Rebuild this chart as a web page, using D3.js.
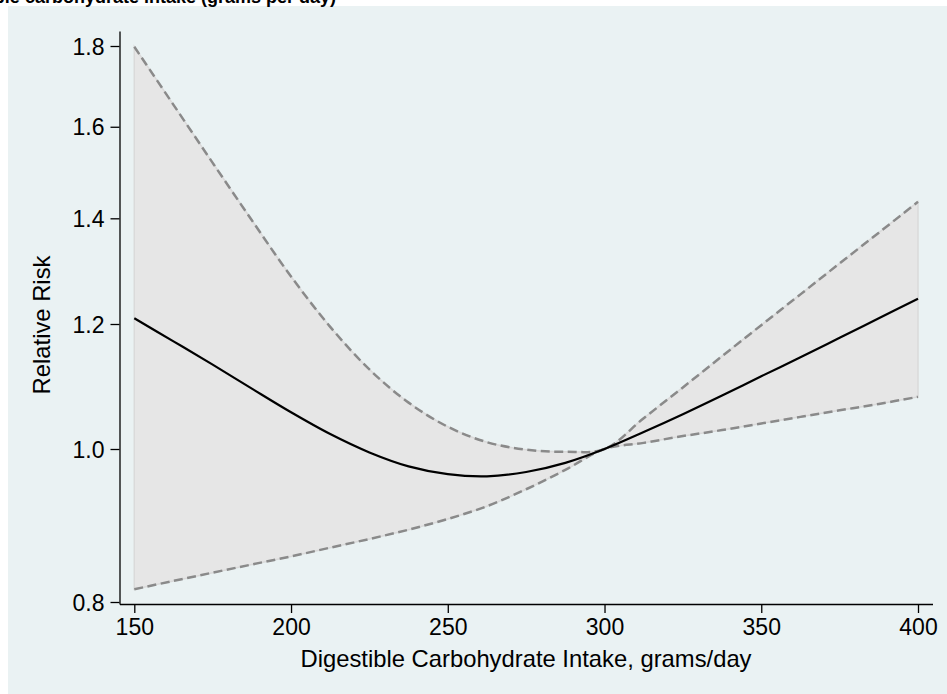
<!DOCTYPE html>
<html>
<head>
<meta charset="utf-8">
<script src="https://cdn.jsdelivr.net/npm/d3@7"></script>
<style>
    html, body { margin: 0; padding: 0; background: #ffffff; }
    svg { display: block; font-family: "Liberation Sans", Arial, sans-serif; }
</style>
</head>
<body>
<svg id="chart" width="947" height="694"></svg>
<script>
// Carbohydrate intake (grams/day) at which the spline was read
const intake = [150, 162.5, 175, 187.5, 200, 212.5, 225, 237.5, 250, 262.5, 275, 287.5, 300,
    312.5, 325, 337.5, 350, 362.5, 375, 387.5, 400];
// Relative risk estimate and its confidence limits
const relativeRisk = [1.210, 1.170, 1.131, 1.092, 1.055, 1.022, 0.995, 0.975, 0.964, 0.961, 0.967, 0.980, 1.000,
    1.025, 1.052, 1.081, 1.112, 1.143, 1.176, 1.210, 1.245];
const upperLimit = [1.798, 1.652, 1.518, 1.396, 1.286, 1.195, 1.123, 1.070, 1.033, 1.010, 0.999, 0.996, 1.000,
    1.046, 1.094, 1.145, 1.198, 1.253, 1.311, 1.371, 1.434];
const lowerLimit = [0.815, 0.825, 0.835, 0.845, 0.855, 0.866, 0.877, 0.889, 0.903, 0.920, 0.943, 0.970, 1.000,
    1.009, 1.019, 1.028, 1.038, 1.048, 1.058, 1.068, 1.079];
const xTicks = [150, 200, 250, 300, 350, 400];
const yTicks = [0.8, 1.0, 1.2, 1.4, 1.6, 1.8];

const styles = {
    background: "rgb(234,242,243)",
    bandFill: "#e6e6e6",
    bandEdge: "#dadada",
    limitColor: "#8a8a8a",
    lineColor: "#000000",
    fontSize: 23
};

let svg = d3.select("#chart");

// Outer graph region
svg.append("rect")
    .attr("x", 8)
    .attr("y", 6)
    .attr("width", 947 - 8)
    .attr("height", 694 - 6)
    .attr("fill", styles.background);

// Scales, then stretched so the axis lines run past the outer ticks
let x = d3.scaleLinear().domain([150, 400]).range([134.3, 918]);
x.domain([x.invert(119.5), x.invert(932.5)]).range([119.5, 932.5]);

let y = d3.scaleLog().domain([0.8, 1.8]).range([602, 46]);
y.domain([y.invert(604), y.invert(31)]).range([604, 31]);

let rows = intake.map((d, i) => ({ x: d, rr: relativeRisk[i], lo: lowerLimit[i], hi: upperLimit[i] }));

// Confidence band
let band = d3.area()
    .x((d) => x(d.x))
    .y0((d) => y(d.lo))
    .y1((d) => y(d.hi))
    .curve(d3.curveCatmullRom);

svg.append("path")
    .datum(rows)
    .attr("d", band)
    .attr("fill", styles.bandFill)
    .attr("stroke", styles.bandEdge)
    .attr("stroke-width", 1.5);

/**
 * Draws one of the spline lines
 * @param {string} key
 * @param {string} color
 * @param {string|null} dash
 * @param {number} width
 */
function drawLine(key, color, dash, width) {
    let line = d3.line()
        .x((d) => x(d.x))
        .y((d) => y(d[key]))
        .curve(d3.curveCatmullRom);
    svg.append("path")
        .datum(rows)
        .attr("d", line)
        .attr("fill", "none")
        .attr("stroke", color)
        .attr("stroke-width", width)
        .attr("stroke-dasharray", dash);
}

drawLine("hi", styles.limitColor, "9,4.5", 2.5);
drawLine("lo", styles.limitColor, "9,4.5", 2.5);
drawLine("rr", styles.lineColor, null, 2.2);

// Axes
let xAxis = svg.append("g")
    .attr("transform", "translate(0,604)")
    .call(d3.axisBottom(x).tickValues(xTicks).tickSize(9).tickSizeOuter(0).tickPadding(6).tickFormat(d3.format("d")));

let yAxis = svg.append("g")
    .attr("transform", "translate(119.5,0)")
    .call(d3.axisLeft(y).tickValues(yTicks).tickSize(9).tickSizeOuter(0).tickPadding(6).tickFormat(d3.format(".1f")));

[xAxis, yAxis].forEach((axis) => {
    axis.selectAll("path, line").attr("stroke", "#000").attr("stroke-width", 1.3);
    axis.selectAll("text")
        .attr("fill", "#000")
        .style("font-size", styles.fontSize + "px")
        .style("font-family", "'Liberation Sans', Arial, sans-serif");
});
yAxis.selectAll("text").attr("dy", "0.35em");

// Axis titles
svg.append("text")
    .attr("x", 526)
    .attr("y", 667)
    .attr("text-anchor", "middle")
    .style("font-size", "23.8px")
    .text("Digestible Carbohydrate Intake, grams/day");

svg.append("text")
    .attr("transform", "translate(50,325) rotate(-90)")
    .attr("text-anchor", "middle")
    .style("font-size", "23.8px")
    .text("Relative Risk");

// Chart title, cut off at the top left as in the source figure
svg.append("text")
    .attr("x", 336)
    .attr("y", 3)
    .attr("text-anchor", "end")
    .style("font-size", "18px")
    .style("font-weight", "bold")
    .text("Digestible carbohydrate intake (grams per day)");
</script>
</body>
</html>
